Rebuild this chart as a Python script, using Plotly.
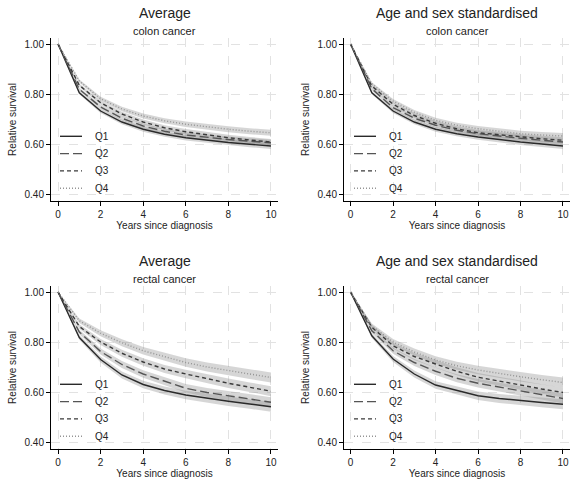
import plotly.graph_objects as go

# ---------------- data ----------------
years = [0, 1, 2, 3, 4, 5, 6, 7, 8, 9, 10]
quartiles = ["Q1", "Q2", "Q3", "Q4"]
y_ticks = [0.40, 0.60, 0.80, 1.00]
x_ticks = [0, 2, 4, 6, 8, 10]

colon_avg_q1 = [1.0, 0.805, 0.732, 0.688, 0.659, 0.639, 0.625, 0.615, 0.606, 0.599, 0.592]
colon_avg_q2 = [1.0, 0.819, 0.748, 0.703, 0.672, 0.651, 0.636, 0.626, 0.618, 0.611, 0.605]
colon_avg_q3 = [1.0, 0.835, 0.765, 0.720, 0.688, 0.665, 0.649, 0.636, 0.625, 0.616, 0.608]
colon_avg_q4 = [1.0, 0.852, 0.781, 0.740, 0.712, 0.693, 0.679, 0.668, 0.659, 0.651, 0.645]

colon_std_q1 = [1.0, 0.805, 0.732, 0.688, 0.659, 0.641, 0.628, 0.617, 0.608, 0.600, 0.592]
colon_std_q2 = [1.0, 0.821, 0.745, 0.703, 0.675, 0.655, 0.641, 0.631, 0.623, 0.615, 0.608]
colon_std_q3 = [1.0, 0.832, 0.759, 0.714, 0.683, 0.661, 0.645, 0.636, 0.628, 0.621, 0.615]
colon_std_q4 = [1.0, 0.841, 0.772, 0.727, 0.695, 0.675, 0.661, 0.650, 0.641, 0.636, 0.632]

rectal_avg_q1 = [1.0, 0.818, 0.730, 0.668, 0.630, 0.606, 0.588, 0.574, 0.563, 0.552, 0.541]
rectal_avg_q2 = [1.0, 0.840, 0.762, 0.710, 0.672, 0.642, 0.615, 0.598, 0.585, 0.572, 0.559]
rectal_avg_q3 = [1.0, 0.862, 0.800, 0.755, 0.720, 0.692, 0.672, 0.652, 0.635, 0.619, 0.603]
rectal_avg_q4 = [1.0, 0.885, 0.835, 0.797, 0.765, 0.740, 0.718, 0.700, 0.685, 0.671, 0.658]

rectal_std_q1 = [1.0, 0.825, 0.732, 0.672, 0.628, 0.605, 0.585, 0.574, 0.565, 0.558, 0.551]
rectal_std_q2 = [1.0, 0.845, 0.765, 0.718, 0.683, 0.655, 0.635, 0.620, 0.605, 0.588, 0.574]
rectal_std_q3 = [1.0, 0.859, 0.785, 0.742, 0.712, 0.683, 0.659, 0.642, 0.628, 0.612, 0.598]
rectal_std_q4 = [1.0, 0.865, 0.800, 0.760, 0.728, 0.705, 0.688, 0.673, 0.661, 0.649, 0.638]

# half-width of the 95% confidence band
colon_ci = [0.0, 0.006, 0.008, 0.009, 0.010, 0.010, 0.011, 0.011, 0.012, 0.012, 0.012]
rectal_ci = [0.0, 0.009, 0.012, 0.014, 0.015, 0.016, 0.017, 0.018, 0.019, 0.019, 0.020]

# ---------------- styling ----------------
W, H = 570, 479
FONT = "Liberation Sans, Arial, sans-serif"
TXT = "#222222"
line_colors = ["#2a2a2a", "#555555", "#3a3a3a", "#959595"]
line_dashes = ["solid", "9px,4px", "4px,3px", "1px,2px"]
band_fill = "rgba(140,140,140,0.36)"


def px(x):
    return x / W


def py(y):
    return 1 - y / H


panels = [
    ("Average", "colon cancer",
     [colon_avg_q1, colon_avg_q2, colon_avg_q3, colon_avg_q4], colon_ci,
     51, 278, 38, 201, [-0.33, 10.33], 58, 13, 31),
    ("Age and sex standardised", "colon cancer",
     [colon_std_q1, colon_std_q2, colon_std_q3, colon_std_q4], colon_ci,
     344, 570, 38, 201, [-0.31, 10.33], 352, 13, 31),
    ("Average", "rectal cancer",
     [rectal_avg_q1, rectal_avg_q2, rectal_avg_q3, rectal_avg_q4], rectal_ci,
     51, 278, 286, 449, [-0.33, 10.33], 58, 261, 279),
    ("Age and sex standardised", "rectal cancer",
     [rectal_std_q1, rectal_std_q2, rectal_std_q3, rectal_std_q4], rectal_ci,
     344, 570, 286, 449, [-0.31, 10.33], 352, 261, 279),
]

fig = go.Figure()
shapes = []
annotations = []
layout_axes = {}

for i, (title, sub, series, ci, L, R, T, B, xr, leg_x, ty, sy) in enumerate(panels):
    n = "" if i == 0 else str(i + 1)
    xa, ya = "x" + n, "y" + n
    for vals in series:
        lo = [v - c for v, c in zip(vals, ci)]
        hi = [v + c for v, c in zip(vals, ci)]
        fig.add_trace(go.Scatter(x=years, y=hi, mode="lines", line=dict(width=0),
                                 showlegend=False, hoverinfo="skip", xaxis=xa, yaxis=ya))
        fig.add_trace(go.Scatter(x=years, y=lo, mode="lines", line=dict(width=0),
                                 fill="tonexty", fillcolor=band_fill,
                                 showlegend=False, hoverinfo="skip", xaxis=xa, yaxis=ya))
    for q, vals, col, dsh in zip(quartiles, series, line_colors, line_dashes):
        fig.add_trace(go.Scatter(x=years, y=vals, mode="lines", name=q,
                                 line=dict(color=col, dash=dsh, width=1.4),
                                 showlegend=False, xaxis=xa, yaxis=ya))

    axis_common = dict(showline=True, linecolor="#000000", linewidth=1,
                       ticks="outside", ticklen=4, tickcolor="#000000", tickwidth=1,
                       showgrid=True, gridcolor="#e2e2e2", griddash="dash", gridwidth=1,
                       zeroline=False, tickfont=dict(size=10, color=TXT, family=FONT))
    layout_axes["xaxis" + n] = dict(axis_common, domain=[px(L), px(R)], range=xr,
                                    tickvals=x_ticks, anchor=ya,
                                    title=dict(text="Years since diagnosis", standoff=2,
                                               font=dict(size=10, color=TXT, family=FONT)))
    layout_axes["yaxis" + n] = dict(axis_common, domain=[py(B), py(T)],
                                    range=[0.372, 1.024], tickvals=y_ticks,
                                    tickformat=".2f", anchor=xa,
                                    title=dict(text="Relative survival", standoff=6,
                                               font=dict(size=10, color=TXT, family=FONT)))

    cx = px((L + R) / 2)
    annotations.append(dict(text=title, x=cx, y=py(ty), xref="paper", yref="paper",
                            showarrow=False, xanchor="center", yanchor="middle",
                            font=dict(size=14, color=TXT, family=FONT)))
    annotations.append(dict(text=sub, x=cx, y=py(sy), xref="paper", yref="paper",
                            showarrow=False, xanchor="center", yanchor="middle",
                            font=dict(size=11, color=TXT, family=FONT)))

    for k, (q, col, dsh) in enumerate(zip(quartiles, line_colors, line_dashes)):
        yy = T + 98.3 + 17.3 * k
        shapes.append(dict(type="line", xref="paper", yref="paper",
                           x0=px(leg_x + 2), x1=px(leg_x + 24), y0=py(yy), y1=py(yy),
                           line=dict(color=col, dash=dsh, width=1.4)))
        annotations.append(dict(text=q, x=px(leg_x + 35), y=py(yy), xref="paper",
                                yref="paper", showarrow=False, xanchor="left",
                                yanchor="middle",
                                font=dict(size=10, color=TXT, family=FONT)))

fig.update_layout(
    width=W, height=H,
    margin=dict(l=0, r=0, t=0, b=0),
    paper_bgcolor="white", plot_bgcolor="white",
    font=dict(family=FONT, color=TXT),
    showlegend=False,
    shapes=shapes,
    annotations=annotations,
    **layout_axes,
)

fig.write_html("out.html",
               config={"displayModeBar": False},
               post_script="document.body.style.margin='0';"
                           "document.body.style.overflow='hidden';")
